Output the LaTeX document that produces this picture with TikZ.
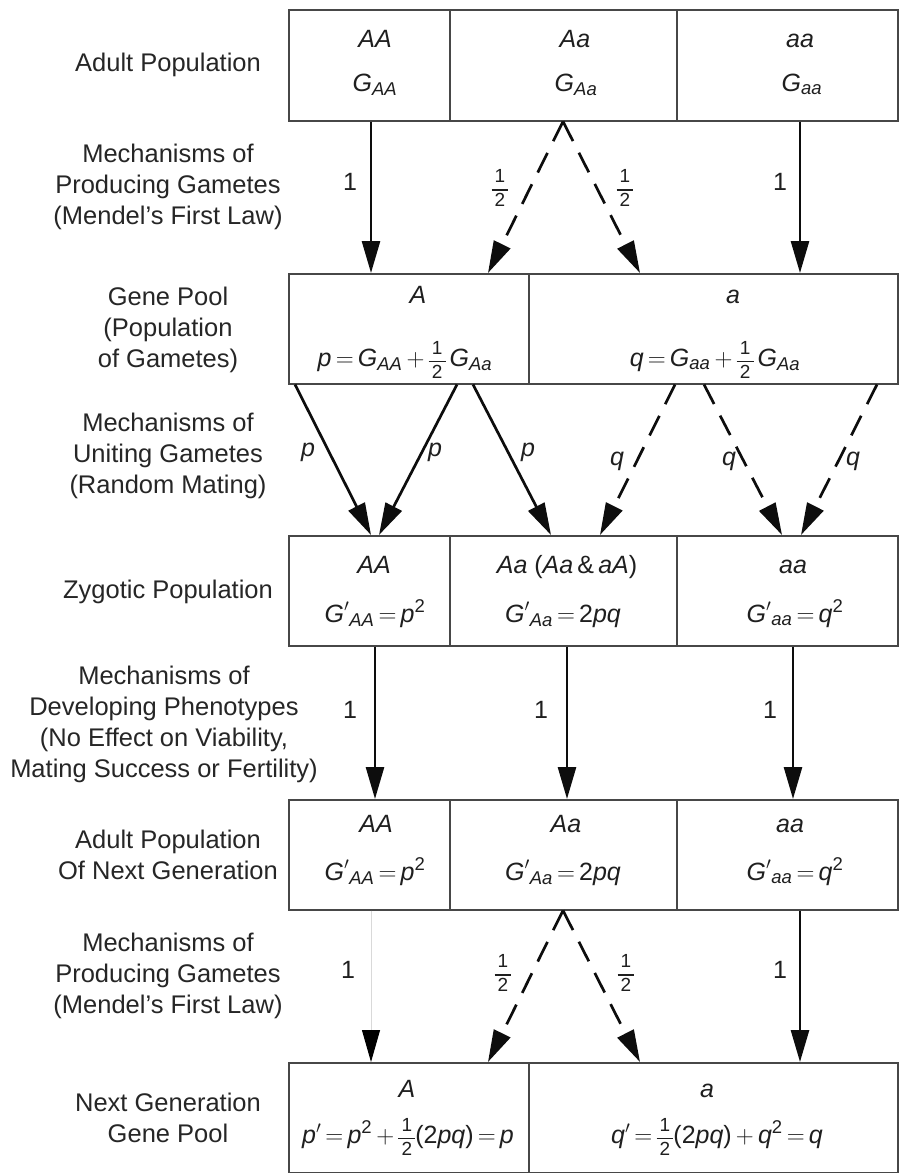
\documentclass[tikz,border=0pt]{standalone}
\usepackage{amsmath}
\usepackage{fontspec}
\setmainfont{Liberation Sans}
\usetikzlibrary{arrows.meta}
\newcommand{\sml}[1]{\mbox{\fontsize{18.5}{18.5}\selectfont #1}}
\newcommand{\iv}[1]{\mbox{\itshape #1}}
\newcommand{\subi}[1]{_{\sml{\itshape #1}}}
\newcommand{\sqi}{^{\sml{2}}}
\newcommand{\hf}{\mbox{\fontsize{19}{19}\selectfont\renewcommand{\arraystretch}{1.2}\setlength{\arrayrulewidth}{1.3pt}\begin{tabular}[c]{@{\,}c@{\,}}1\\\hline 2\end{tabular}}}
\newcommand{\eq}{\mkern3mu{=}\mkern3mu}
\newcommand{\pl}{\mkern3mu{+}\mkern3mu}
\begin{document}
\begin{tikzpicture}[x=1pt,y=-1pt,
  cell/.style={draw=black!72, line width=1.5pt, inner sep=0pt, anchor=north west},
  sarrow/.style={line width=2.7pt, draw=black!95, -{Triangle[length=32pt,width=18pt]}},
  darrow/.style={sarrow, dash pattern=on 22pt off 13pt},
  farrow/.style={line width=1pt, draw=black!15, -{Triangle[length=32pt,width=18pt,color=black]}},
  lab/.style={font=\fontsize{25.5}{31}\selectfont, align=center, text=black!85},
  btxt/.style={font=\fontsize{25}{30}\selectfont, anchor=base, text=black!88, inner sep=0pt},
  alab/.style={font=\fontsize{25}{30}\selectfont, text=black!88, inner sep=0pt}]
\useasboundingbox[fill=white] (0,0) rectangle (898,1173);

% ---------- left labels ----------
\node[lab] (L1) at (168,65) {Adult Population};
\node[lab] (L2) at (168,187) {Mechanisms of\\Producing Gametes\\(Mendel’s First Law)};
\node[lab] (L3) at (168,330) {Gene Pool\\(Population\\of Gametes)};
\node[lab] (L4) at (168,456) {Mechanisms of\\Uniting Gametes\\(Random Mating)};
\node[lab] (L5) at (168,592) {Zygotic Population};
\node[lab] (L6) at (164,724) {Mechanisms of\\Developing Phenotypes\\(No Effect on Viability,\\Mating Success or Fertility)};
\node[lab] (L7) at (168,855) {Adult Population\\Of Next Generation};
\node[lab] (L8) at (168,976) {Mechanisms of\\Producing Gametes\\(Mendel’s First Law)};
\node[lab] (L9) at (168,1118) {Next Generation\\Gene Pool};

% ---------- boxes ----------
\node[cell, minimum width=161pt, minimum height=111pt] (t1) at (288,9) {};
\node[cell, minimum width=227pt, minimum height=111pt] (t2) at (449,9) {};
\node[cell, minimum width=221pt, minimum height=111pt] (t3) at (676,9) {};

\node[cell, minimum width=240pt, minimum height=110pt] (g1) at (288,273) {};
\node[cell, minimum width=369pt, minimum height=110pt] (g2) at (528,273) {};

\node[cell, minimum width=161pt, minimum height=110pt] (z1) at (288,535) {};
\node[cell, minimum width=227pt, minimum height=110pt] (z2) at (449,535) {};
\node[cell, minimum width=221pt, minimum height=110pt] (z3) at (676,535) {};

\node[cell, minimum width=161pt, minimum height=110pt] (n1) at (288,799) {};
\node[cell, minimum width=227pt, minimum height=110pt] (n2) at (449,799) {};
\node[cell, minimum width=221pt, minimum height=110pt] (n3) at (676,799) {};

\node[cell, minimum width=240pt, minimum height=110pt] (b1) at (288,1062) {};
\node[cell, minimum width=369pt, minimum height=110pt] (b2) at (528,1062) {};

% ---------- box texts ----------
\node[btxt] (t1a) at (375,47) {\textit{AA}};
\node[btxt] (t1b) at (375,91) {$\iv{G}\subi{AA}$};
\node[btxt] (t2a) at (575,47) {\textit{Aa}};
\node[btxt] (t2b) at (576,91) {$\iv{G}\subi{Aa}$};
\node[btxt] (t3a) at (800,47) {\textit{aa}};
\node[btxt] (t3b) at (802,91) {$\iv{G}\subi{aa}$};

\node[btxt] (g1a) at (418,303) {\textit{A}};
\node[btxt] (g1b) at (405,366) {$\iv{p}\eq\iv{G}\subi{AA}\pl\hf\,\iv{G}\subi{Aa}$};
\node[btxt] (g2a) at (733,303) {\textit{a}};
\node[btxt] (g2b) at (715,366) {$\iv{q}\eq\iv{G}\subi{aa}\pl\hf\,\iv{G}\subi{Aa}$};

\node[btxt] (z1a) at (374,573) {\textit{AA}};
\node[btxt] (z1b) at (375,622) {${\iv{G}'}\subi{AA}\eq\iv{p}\sqi$};
\node[btxt] (z2a) at (567,573) {\textit{Aa} (\textit{Aa}\,\&\,\textit{aA})};
\node[btxt] (z2b) at (563,622) {${\iv{G}'}\subi{Aa}\eq\mbox{2}\iv{pq}$};
\node[btxt] (z3a) at (793,573) {\textit{aa}};
\node[btxt] (z3b) at (795,622) {${\iv{G}'}\subi{aa}\eq\iv{q}\sqi$};

\node[btxt] (n1a) at (376,832) {\textit{AA}};
\node[btxt] (n1b) at (375,880) {${\iv{G}'}\subi{AA}\eq\iv{p}\sqi$};
\node[btxt] (n2a) at (566,832) {\textit{Aa}};
\node[btxt] (n2b) at (563,880) {${\iv{G}'}\subi{Aa}\eq\mbox{2}\iv{pq}$};
\node[btxt] (n3a) at (790,832) {\textit{aa}};
\node[btxt] (n3b) at (795,880) {${\iv{G}'}\subi{aa}\eq\iv{q}\sqi$};

\node[btxt] (b1a) at (407,1097) {\textit{A}};
\node[btxt] (b1b) at (408,1143) {$\iv{p}'\eq\iv{p}\sqi\pl\hf\mbox{(2}\iv{pq}\mbox{)}\eq\iv{p}$};
\node[btxt] (b2a) at (707,1097) {\textit{a}};
\node[btxt] (b2b) at (717,1143) {$\iv{q}'\eq\hf\mbox{(2}\iv{pq}\mbox{)}\pl\iv{q}\sqi\eq\iv{q}$};

% ---------- level 1: adult -> gene pool ----------
\draw[sarrow] (371,0 |- t1.south) -- (371,0 |- g1.north);
\draw[darrow] (563,0 |- t2.south) -- (488,0 |- g1.north);
\draw[darrow] (563,0 |- t2.south) -- (640,0 |- g2.north);
\draw[sarrow] (800,0 |- t3.south) -- (800,0 |- g2.north);
\node[alab] (k1) at (350,182) {1};
\node[alab] (k2) at (500,190) {\hf};
\node[alab] (k3) at (625,190) {\hf};
\node[alab] (k4) at (780,182) {1};

% ---------- level 2: gene pool -> zygotes ----------
\draw[sarrow] (295,0 |- g1.south) -- (371,0 |- z1.north);
\draw[sarrow] (457,0 |- g1.south) -- (379,0 |- z1.north);
\draw[sarrow] (473,0 |- g1.south) -- (551,0 |- z2.north);
\draw[darrow] (675,0 |- g2.south) -- (600,0 |- z2.north);
\draw[darrow] (704,0 |- g2.south) -- (782,0 |- z3.north);
\draw[darrow] (877,0 |- g2.south) -- (801,0 |- z3.north);
\node[alab] (p1) at (308,452) {\textit{p}};
\node[alab] (p2) at (435,452) {\textit{p}};
\node[alab] (p3) at (528,452) {\textit{p}};
\node[alab] (q1) at (617,461) {\textit{q}};
\node[alab] (q2) at (729,461) {\textit{q}};
\node[alab] (q3) at (853,461) {\textit{q}};

% ---------- level 3: zygotes -> adults ----------
\draw[sarrow] (375,0 |- z1.south) -- (375,0 |- n1.north);
\draw[sarrow] (567,0 |- z2.south) -- (567,0 |- n2.north);
\draw[sarrow] (793,0 |- z3.south) -- (793,0 |- n3.north);
\node[alab] (m1) at (350,710) {1};
\node[alab] (m2) at (541,710) {1};
\node[alab] (m3) at (770,710) {1};

% ---------- level 4: adults -> next gene pool ----------
\draw[farrow] (371,0 |- n1.south) -- (371,0 |- b1.north);
\draw[darrow] (563,0 |- n2.south) -- (488,0 |- b1.north);
\draw[darrow] (563,0 |- n2.south) -- (640,0 |- b2.north);
\draw[sarrow] (800,0 |- n3.south) -- (800,0 |- b2.north);
\node[alab] (r1) at (348,970) {1};
\node[alab] (r2) at (503,975) {\hf};
\node[alab] (r3) at (626,975) {\hf};
\node[alab] (r4) at (780,970) {1};
\end{tikzpicture}
\end{document}
